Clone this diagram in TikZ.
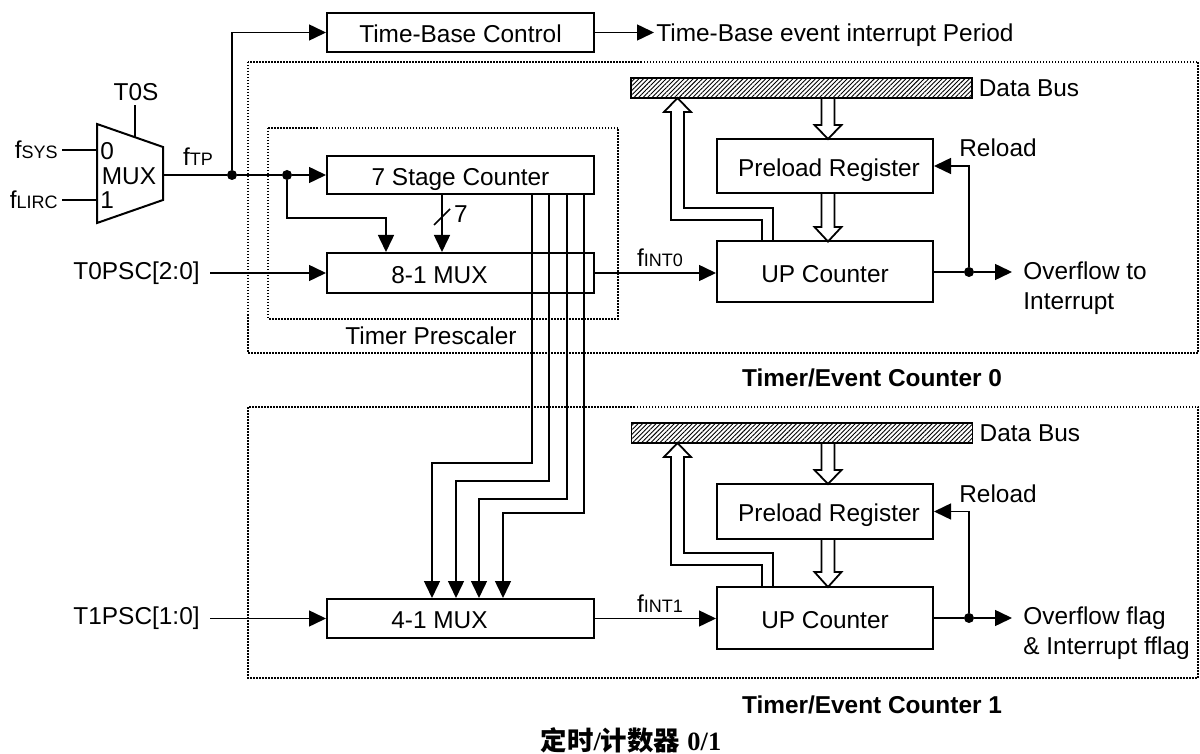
\documentclass[tikz,border=0pt]{standalone}
\usepackage{fontspec}
\setmainfont{Liberation Sans}
\newfontfamily\cjk{Noto Sans CJK SC}
\newfontfamily\serifb{Liberation Serif}
\usetikzlibrary{arrows.meta,patterns.meta}
\newcommand{\fsub}[1]{{\fontsize{9}{10}\selectfont #1}}
\tikzset{
  blk/.style={draw,line width=1pt,minimum width=133.5pt,inner sep=0pt,text height=10.4pt,text depth=0pt},
  sig/.style={line width=0.75pt,-{Triangle[length=8.5pt,width=8pt]}},
  wire/.style={line width=0.75pt},
  frame/.style={line width=0.75pt,dash pattern=on 0.75pt off 0.75pt},
  bus/.style={draw,line width=0.8pt,minimum width=170.5pt,minimum height=10pt,inner sep=0pt,
    pattern={Lines[angle=45,distance=1.6pt,line width=0.45pt]}},
  dot/.style={circle,fill,inner sep=0pt,minimum size=5pt},
  hol/.style={line width=0.9pt},
  lbl/.style={inner sep=2pt}
}
\begin{document}
\begin{tikzpicture}[x=0.5pt,y=-0.5pt,font=\fontsize{12.2}{14.5}\selectfont]
    \useasboundingbox (0,0) rectangle (1200,754);

    % frames
    \draw[frame] (248,62) rectangle (1198,353);
    \draw[frame] (268,128) rectangle (618,319);
    \draw[frame] (248,407) rectangle (1198,678);
    \node[lbl] (tps) at (431,336) {Timer Prescaler};
    \node[lbl] (tec0) at (872,378) {\bfseries Timer/Event Counter 0};
    \node[lbl] (tec1) at (872,705) {\bfseries Timer/Event Counter 1};
    \node[lbl,font=\fontsize{13.2}{15}\selectfont] (ttl) at (631,740) {{\cjk\bfseries 定时}{\serifb\bfseries /}{\cjk\bfseries 计数器} {\serifb\bfseries 0/1}};

    % clock select mux
    \draw[line width=1pt] (97,124) -- (163,147) -- (163,200) -- (97,223) -- cycle;
    \coordinate (mi0) at (97,150);
    \coordinate (mi1) at (97,200);
    \coordinate (msel) at (135,137);
    \coordinate (mout) at (163,175);
    \node[anchor=west,inner sep=0pt] (m0) at (100,151) {0};
    \node[inner sep=0pt] (mm) at (129,176) {MUX};
    \node[anchor=west,inner sep=0pt] (m1) at (100,200) {1};
    \node[lbl] (t0s) at (136,92) {T0S};
    \node[lbl,anchor=east] (fsys) at (62,150) {f\fsub{SYS}};
    \node[lbl,anchor=east] (flirc) at (62,200) {f\fsub{LIRC}};
    \draw[wire] (t0s.south -| msel) -- (msel);
    \draw[wire] (fsys.east) -- (mi0);
    \draw[wire] (flirc.east) -- (mi1);

    % blocks
    \node[blk,minimum height=19.5pt] (tbc) at (460.5,32.5) {Time-Base Control};
    \node[blk,minimum height=19pt] (sc7) at (460.5,175) {7 Stage Counter};
    \node[blk,minimum height=20pt] (mux8) at (460.5,273) {8-1 MUX\hspace*{21pt}};
    \node[blk,minimum height=19.5pt] (mux4) at (460.5,618.5) {4-1 MUX\hspace*{21pt}};
    \node[blk,minimum width=108pt,minimum height=27pt] (pr0) at (825,166) {\hspace*{4pt}Preload Register};
    \node[blk,minimum width=108pt,minimum height=30.5pt] (up0) at (825,272) {UP Counter};
    \node[blk,minimum width=108pt,minimum height=27.5pt] (pr1) at (825,511.5) {\hspace*{4pt}Preload Register};
    \node[blk,minimum width=108pt,minimum height=31pt] (up1) at (825,618) {UP Counter};
    \node[bus] (bus0) at (801.5,88) {};
    \node[bus] (bus1) at (802,433) {};
    \node[anchor=west,inner sep=3pt] (db0) at (bus0.east) {Data Bus};
    \node[anchor=west,inner sep=3pt] (db1) at (bus1.east) {Data Bus};

    % clock path
    \node[dot] (ja) at (232,175) {};
    \node[dot] (jb) at (287,175) {};
    \node[lbl] (ftp) at (198,157) {f\fsub{TP}};
    \draw[wire] (mout) -- (ja) -- (jb);
    \draw[sig] (ja) |- (tbc.west);
    \draw[sig] (jb) -- (sc7.west);
    \node[anchor=west,inner sep=1pt] (tbe) at (654,35) {Time-Base event interrupt Period};
    \draw[sig] (tbc.east) -- (tbc.east -| tbe.west);
    \coordinate (k1) at (386,218);
    \draw[sig] (jb) |- (k1) -- (k1 |- mux8.north);
    \coordinate (k7) at (442,0);
    \draw[sig] (k7 |- sc7.south) -- (k7 |- mux8.north);
    \draw[wire] (434,225) -- (450,209);
    \node[lbl] (w7) at (461,214) {7};
    \foreach \a/\t/\d in {532/463/432, 549/481/456, 567/499/479, 584/513/503}
        \draw[sig] (sc7.south -| \a,0) -- (\a,\t) -| (mux4.north -| \d,0);

    % select inputs
    \node[anchor=east,inner xsep=5pt] (t0psc) at (210,273) {T0PSC[2:0]};
    \node[anchor=east,inner xsep=5pt] (t1psc) at (210,618.5) {T1PSC[1:0]};
    \draw[sig] (t0psc.east) -- (mux8.west);
    \draw[sig] (t1psc.east) -- (mux4.west);
    \node[lbl] (fi0) at (660,258) {f\fsub{INT0}};
    \node[lbl] (fi1) at (660,604) {f\fsub{INT1}};
    \draw[sig] (mux8.east) -- (mux8.east -| up0.west);
    \draw[sig] (mux4.east) -- (mux4.east -| up1.west);

    % reload and overflow
    \node[dot] (r0) at (969,272) {};
    \node[dot] (r1) at (969,618) {};
    \node[anchor=west,align=left,inner sep=2pt,font=\fontsize{12.2}{15}\selectfont] (ovf0) at (1019,288) {Overflow to\\Interrupt};
    \node[anchor=west,align=left,inner sep=2pt,font=\fontsize{12.2}{15}\selectfont] (ovf1) at (1019,633) {Overflow flag\\\& Interrupt fflag};
    \node[lbl] (rl0) at (998,148) {Reload};
    \node[lbl] (rl1) at (998,494) {Reload};
    \draw[wire] (up0.east) -- (r0);
    \draw[wire] (up1.east) -- (r1);
    \draw[sig,shorten >=3.5pt] (r0) -- (r0 -| ovf0.west);
    \draw[sig,shorten >=3.5pt] (r1) -- (r1 -| ovf1.west);
    \draw[sig] (r0) |- (pr0.east);
    \draw[sig] (r1) |- (pr1.east);

    % hollow bus arrows
    \draw[hol] (821.5,98) -- (821.5,125) -- (814.5,125) -- (828,139) -- (841.5,125) -- (834.5,125) -- (834.5,98);
    \draw[hol] (821.5,193) -- (821.5,227) -- (814.5,227) -- (828,241.5) -- (841.5,227) -- (834.5,227) -- (834.5,193);
    \draw[hol] (821.5,443) -- (821.5,470) -- (814.5,470) -- (828,484) -- (841.5,470) -- (834.5,470) -- (834.5,443);
    \draw[hol] (821.5,539) -- (821.5,572) -- (814.5,572) -- (828,587) -- (841.5,572) -- (834.5,572) -- (834.5,539);
    \draw[hol] (762,241.5) -- (762,220) -- (671,220) -- (671,112) -- (664,112) -- (677.5,98) -- (691,112) -- (684,112) -- (684,208) -- (773,208) -- (773,241.5);
    \draw[hol] (762,587) -- (762,565) -- (671,565) -- (671,457) -- (664,457) -- (677.5,443) -- (691,457) -- (684,457) -- (684,553) -- (773,553) -- (773,587);
\end{tikzpicture}
\end{document}
